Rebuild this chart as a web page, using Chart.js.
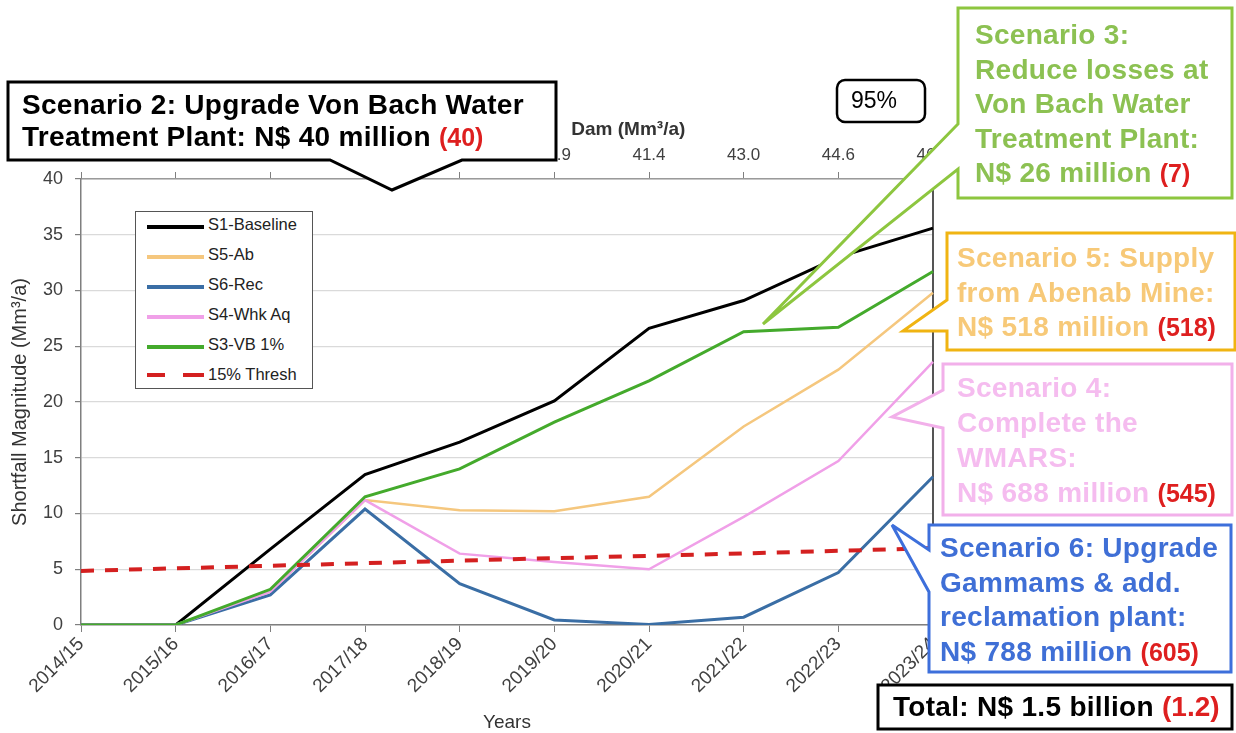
<!DOCTYPE html>
<html>
<head>
<meta charset="utf-8">
<script src="https://cdn.jsdelivr.net/npm/chart.js@4.4.1/dist/chart.umd.min.js"></script>
<style>
  html, body { margin: 0; padding: 0; background: #fff; }
  #wrap { position: relative; width: 1236px; height: 733px; overflow: hidden; font-family: 'Liberation Sans', Arial, sans-serif; }
  #wrap canvas { position: absolute; left: 0; top: 0; }
  #shapes { position: absolute; left: 0; top: 0; }
  .txt { position: absolute; font-weight: bold; white-space: nowrap; font-size: 28px; letter-spacing: 0.3px; }
  .red { color: #de1f1f; font-size: 25px; letter-spacing: 0; }
  #legend { position: absolute; left: 135px; top: 211px; width: 176px; height: 176px; border: 1.5px solid #555; background: #fff; }
  .lrow { position: absolute; left: 0; height: 30px; width: 170px; }
  .lline { position: absolute; left: 11px; width: 57px; top: 13px; height: 0; }
  .ltext { position: absolute; left: 72px; top: 3px; font-size: 16.5px; color: #222; }
</style>
</head>
<body>
<div id="wrap">
  <canvas id="c" width="1236" height="733"></canvas>
  <div id="legend"></div>
  <svg id="shapes" width="1236" height="733" xmlns="http://www.w3.org/2000/svg">
    <path d="M 8 82 H 556 V 160 H 462 L 392 190 L 330 160 H 8 Z" fill="#fff" stroke="#000" stroke-width="3"/>
    <rect x="837" y="80" width="88" height="42" rx="8" ry="8" fill="#fff" stroke="#000" stroke-width="2.5"/>
    <path d="M 958 8 H 1232 V 198 H 958 V 169 L 763 324 L 958 124 Z" fill="#fff" stroke="#8dc63f" stroke-width="3"/>
    <path d="M 947 233 H 1235 V 350 H 947 V 331 L 903 331 L 947 300 Z" fill="#fff" stroke="#f0b412" stroke-width="3"/>
    <path d="M 943 364 H 1232 V 515 H 943 V 428 L 892 417 L 943 390 Z" fill="#fff" stroke="#f2b0ea" stroke-width="3"/>
    <path d="M 929 525 H 1231 V 672 H 929 V 592 L 892 525 L 929 550 Z" fill="#fff" stroke="#3d6fdb" stroke-width="3"/>
    <rect x="878" y="685" width="354" height="44" fill="#fff" stroke="#000" stroke-width="3"/>
  </svg>
  <div class="txt" style="left:22px; top:89px; line-height:32px; color:#000;">Scenario 2: Upgrade Von Bach Water<br>Treatment Plant: N$ 40 million <span class="red">(40)</span></div>
  <div class="txt" style="left:851px; top:86px; font-size:23px; line-height:28px; color:#000; font-weight:normal; letter-spacing:0;">95%</div>
  <div class="txt" style="left:975px; top:18px; line-height:34.5px; color:#8cc152;">Scenario 3:<br>Reduce losses at<br>Von Bach Water<br>Treatment Plant:<br>N$ 26 million <span class="red">(7)</span></div>
  <div class="txt" style="left:957px; top:241px; line-height:34.5px; color:#f7c978;">Scenario 5: Supply<br>from Abenab Mine:<br>N$ 518 million <span class="red">(518)</span></div>
  <div class="txt" style="left:957px; top:370px; line-height:35px; color:#f5bcef;">Scenario 4:<br>Complete the<br>WMARS:<br>N$ 688 million <span class="red">(545)</span></div>
  <div class="txt" style="left:940px; top:531px; line-height:34.5px; color:#3f6fd6;">Scenario 6: Upgrade<br>Gammams &amp; add.<br>reclamation plant:<br>N$ 788 million <span class="red">(605)</span></div>
  <div class="txt" style="left:893px; top:690px; line-height:34px; color:#000;">Total: N$ 1.5 billion <span class="red" style="font-size:28px;">(1.2)</span></div>
</div>
<script>
// ---- data ----
const years = ['2014/15','2015/16','2016/17','2017/18','2018/19','2019/20','2020/21','2021/22','2022/23','2023/24'];
const demandLabels = ['32.3','33.8','35.3','36.9','38.4','39.9','41.4','43.0','44.6','46.2'];
const demandTitle = 'Dam (Mm³/a)';
const s1Baseline = [0, 0, 6.8, 13.5, 16.4, 20.1, 26.6, 29.1, 33.0, 35.6];
const s5Ab       = [0, 0, 3.0, 11.2, 10.3, 10.2, 11.5, 17.8, 22.9, 29.8];
const s6Rec      = [0, 0, 2.7, 10.4, 3.7, 0.45, 0.05, 0.7, 4.7, 13.3];
const s4WhkAq    = [0, 0, 3.0, 11.2, 6.4, 5.65, 5.0, 9.7, 14.7, 23.6];
const s3VB       = [0, 0, 3.2, 11.5, 14.0, 18.2, 21.9, 26.3, 26.7, 31.7];
const thresh15   = [4.85, 5.08, 5.31, 5.54, 5.77, 6.0, 6.2, 6.42, 6.65, 6.9];
const yTicks = [0, 5, 10, 15, 20, 25, 30, 35, 40];

const FONT = "'Liberation Sans', Arial, sans-serif";
Chart.defaults.font.family = FONT;
Chart.defaults.color = '#404040';

const datasets = [
  { label: 'S1-Baseline', data: s1Baseline, borderColor: '#000000', borderWidth: 3, order: 6 },
  { label: 'S5-Ab', data: s5Ab, borderColor: '#f5c77e', borderWidth: 2.5, order: 5 },
  { label: 'S6-Rec', data: s6Rec, borderColor: '#3a6ea5', borderWidth: 3, order: 4 },
  { label: 'S4-Whk Aq', data: s4WhkAq, borderColor: '#f0a0e8', borderWidth: 2.5, order: 3 },
  { label: 'S3-VB 1%', data: s3VB, borderColor: '#44aa2c', borderWidth: 3, order: 2 },
  { label: '15% Thresh', data: thresh15, borderColor: '#d42020', borderWidth: 4, borderDash: [13, 11], order: 1 }
];
datasets.forEach(d => { d.pointRadius = 0; d.tension = 0; d.fill = false; d.backgroundColor = d.borderColor; });

// top-axis title, placed just right of the 6th top tick
const topTitlePlugin = {
  id: 'topTitle',
  afterDraw(chart) {
    const s = chart.scales.x2;
    const ctx = chart.ctx;
    ctx.save();
    ctx.font = 'bold 19px ' + FONT;
    ctx.fillStyle = '#333';
    ctx.textAlign = 'left';
    ctx.textBaseline = 'middle';
    ctx.fillText(demandTitle, s.getPixelForTick(5) + 17, s.top + 10);
    ctx.restore();
  }
};

const chart = new Chart(document.getElementById('c'), {
  type: 'line',
  data: { labels: years, datasets: datasets },
  plugins: [topTitlePlugin],
  options: {
    responsive: false,
    animation: false,
    layout: { padding: { top: 120, left: 0, right: 0, bottom: 0 } },
    plugins: { legend: { display: false }, tooltip: { enabled: false } },
    scales: {
      x: {
        type: 'category',
        position: 'bottom',
        offset: false,
        grid: { drawOnChartArea: false, drawTicks: true, tickLength: 7, tickColor: '#7f7f7f' },
        border: { color: '#7f7f7f', width: 1.5 },
        ticks: { autoSkip: false, minRotation: 45, maxRotation: 45, font: { size: 19 }, color: '#404040', padding: 1 },
        title: { display: true, text: 'Years', font: { size: 19, lineHeight: 1.05 }, color: '#333', padding: { top: 0, bottom: 0 } },
        afterFit: s => { s.height = 108; }
      },
      x2: {
        type: 'category',
        position: 'top',
        labels: demandLabels,
        offset: false,
        grid: { drawOnChartArea: false, drawTicks: true, tickLength: 7, tickColor: '#7f7f7f' },
        border: { color: '#9a9a9a', width: 1.5 },
        ticks: { autoSkip: false, maxRotation: 0, font: { size: 17 }, color: '#404040', padding: 6 },
        title: { display: false },
        afterFit: s => { s.height = 59; }
      },
      y: {
        min: 0, max: 40,
        afterBuildTicks: s => { s.ticks = yTicks.map(v => ({ value: v })); },
        grid: { color: '#dadada', lineWidth: 1.2, drawTicks: true, tickLength: 6, tickColor: '#7f7f7f' },
        border: { color: '#7f7f7f', width: 1.5 },
        ticks: { font: { size: 18 }, color: '#404040', padding: 12 },
        title: { display: true, text: 'Shortfall Magnitude (Mm³/a)', font: { size: 20 }, color: '#333', padding: { top: 8, bottom: 0 } },
        afterFit: s => { s.width = 81; }
      },
      y2: {
        position: 'right',
        min: 0, max: 40,
        grid: { drawOnChartArea: false, drawTicks: false },
        border: { color: '#555', width: 2 },
        ticks: { display: false },
        afterFit: s => { s.width = 303; }
      }
    }
  }
});

// HTML legend built from the chart's datasets
const leg = document.getElementById('legend');
chart.data.datasets.forEach((d, i) => {
  const row = document.createElement('div');
  row.className = 'lrow';
  row.style.top = (i * 30) + 'px';
  const ln = document.createElement('div');
  ln.className = 'lline';
  if (d.borderDash) {
    ln.style.height = '4px';
    ln.style.top = '11px';
    ln.style.background = 'linear-gradient(to right, ' + d.borderColor + ' 0 18px, transparent 18px 36px, ' + d.borderColor + ' 36px 57px)';
  } else {
    ln.style.borderTop = '4px solid ' + d.borderColor;
  }
  const tx = document.createElement('div');
  tx.className = 'ltext';
  tx.textContent = d.label;
  row.appendChild(ln); row.appendChild(tx);
  leg.appendChild(row);
});
</script>
</body>
</html>
